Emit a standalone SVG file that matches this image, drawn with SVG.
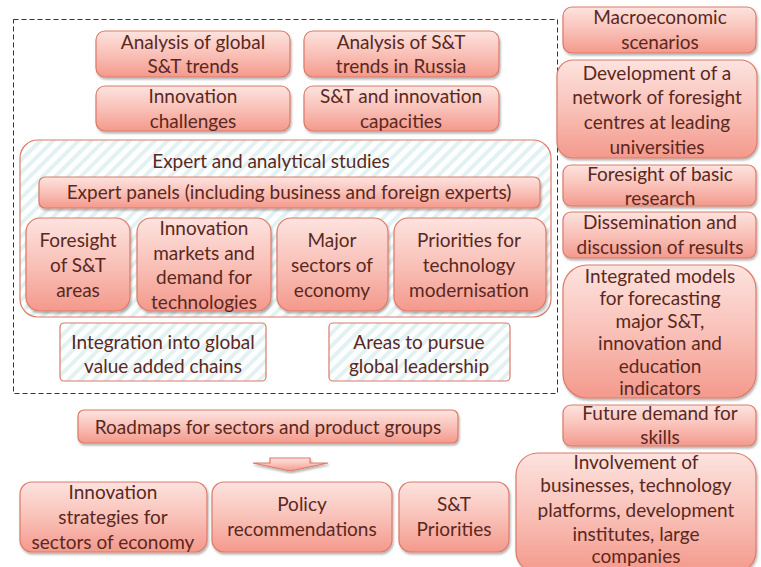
<svg xmlns="http://www.w3.org/2000/svg" width="761" height="567" viewBox="0 0 761 567">
  <defs>
    <linearGradient id="pink" x1="0" y1="0" x2="0" y2="1">
      <stop offset="0" stop-color="#fde3df"/>
      <stop offset="0.5" stop-color="#f9c1b8"/>
      <stop offset="1" stop-color="#f4998c"/>
    </linearGradient>
    <pattern id="hatch" width="9" height="9" patternUnits="userSpaceOnUse" patternTransform="rotate(45)">
      <rect width="9" height="9" fill="#ffffff"/>
      <rect width="4" height="9" fill="#e2f2f2"/>
    </pattern>
    <filter id="shadow" x="-10%" y="-10%" width="120%" height="130%">
      <feDropShadow dx="1" dy="2" stdDeviation="1.2" flood-color="#000" flood-opacity="0.3"/>
    </filter>
  </defs>
  <style>
    .box { fill: url(#pink); stroke: #dc7a68; stroke-width: 1.2; filter: url(#shadow); }
    .hatched { fill: url(#hatch); stroke: #dc7a68; stroke-width: 1.2; }
    .frame { fill: none; stroke: #333; stroke-width: 1; stroke-dasharray: 5 3; }
    text { font-family: Lato, "Open Sans", sans-serif; font-size: 19px; fill: #5a281e; text-anchor: middle; }
  </style>
  <rect width="761" height="567" fill="#ffffff"/>

  <!-- dashed frame around the analytical block -->
  <rect class="frame" x="13.5" y="19.5" width="544" height="374"/>

  <g id="global-trends">
    <rect class="box" x="96" y="31" width="194" height="46" rx="9"/>
    <text x="193" y="49">Analysis of global</text>
    <text x="193" y="73">S&amp;T trends</text>
  </g>
  <g id="russia-trends">
    <rect class="box" x="304" y="31" width="195" height="46" rx="9"/>
    <text x="401" y="49">Analysis of S&amp;T</text>
    <text x="401" y="73">trends in Russia</text>
  </g>
  <g id="innovation-challenges">
    <rect class="box" x="96" y="86" width="194" height="45" rx="9"/>
    <text x="193" y="103">Innovation</text>
    <text x="193" y="128">challenges</text>
  </g>
  <g id="capacities">
    <rect class="box" x="304" y="86" width="195" height="45" rx="9"/>
    <text x="401" y="103">S&amp;T and innovation</text>
    <text x="401" y="128">capacities</text>
  </g>

  <g id="expert-studies">
    <rect class="hatched" x="20" y="140" width="531" height="177" rx="18"/>
    <text x="271" y="168">Expert and analytical studies</text>
  </g>
  <g id="expert-panels">
    <rect class="box" x="39" y="177" width="501" height="31" rx="6"/>
    <text x="289" y="199">Expert panels (including business and foreign experts)</text>
  </g>
  <g id="st-areas">
    <rect class="box" x="26" y="218" width="104" height="93" rx="14"/>
    <text x="78" y="247">Foresight</text>
    <text x="78" y="272">of S&amp;T</text>
    <text x="78" y="297">areas</text>
  </g>
  <g id="innovation-markets">
    <rect class="box" x="137" y="218" width="134" height="93" rx="14"/>
    <text x="204" y="235">Innovation</text>
    <text x="204" y="260">markets and</text>
    <text x="204" y="284">demand for</text>
    <text x="204" y="309">technologies</text>
  </g>
  <g id="major-sectors">
    <rect class="box" x="277" y="218" width="111" height="93" rx="14"/>
    <text x="332" y="247">Major</text>
    <text x="332" y="272">sectors of</text>
    <text x="332" y="297">economy</text>
  </g>
  <g id="tech-priorities">
    <rect class="box" x="394" y="218" width="152" height="93" rx="14"/>
    <text x="469" y="247">Priorities for</text>
    <text x="469" y="272">technology</text>
    <text x="469" y="297">modernisation</text>
  </g>
  <g id="value-chains">
    <rect class="hatched" x="60" y="323" width="206" height="58" rx="4"/>
    <text x="163" y="349">Integration into global</text>
    <text x="163" y="373">value added chains</text>
  </g>
  <g id="global-leadership">
    <rect class="hatched" x="329" y="323" width="181" height="58" rx="4"/>
    <text x="419" y="349">Areas to pursue</text>
    <text x="419" y="373">global leadership</text>
  </g>

  <g id="roadmaps">
    <rect class="box" x="78" y="410" width="380" height="33" rx="6"/>
    <text x="268" y="434">Roadmaps for sectors and product groups</text>
  </g>

  <g id="connectors">
    <path class="box" d="M270 458 H310 V463 H328 L290 471 L253 463 H270 Z"/>
  </g>

  <g id="innovation-strategies">
    <rect class="box" x="20" y="482" width="187" height="70" rx="12"/>
    <text x="113" y="499">Innovation</text>
    <text x="113" y="524">strategies for</text>
    <text x="113" y="549">sectors of economy</text>
  </g>
  <g id="policy">
    <rect class="box" x="212" y="482" width="180" height="70" rx="12"/>
    <text x="302" y="511">Policy</text>
    <text x="302" y="536">recommendations</text>
  </g>
  <g id="st-priorities">
    <rect class="box" x="399" y="482" width="110" height="70" rx="12"/>
    <text x="454" y="511">S&amp;T</text>
    <text x="454" y="536">Priorities</text>
  </g>

  <g id="macro">
    <rect class="box" x="563" y="7" width="193" height="46" rx="9"/>
    <text x="660" y="24">Macroeconomic</text>
    <text x="660" y="49">scenarios</text>
  </g>
  <g id="foresight-centres">
    <rect class="box" x="557" y="60" width="200" height="98" rx="16"/>
    <text x="657" y="80">Development of a</text>
    <text x="657" y="104">network of foresight</text>
    <text x="657" y="129">centres at leading</text>
    <text x="657" y="154">universities</text>
  </g>
  <g id="basic-research">
    <rect class="box" x="563" y="165" width="193" height="41" rx="8"/>
    <text x="660" y="181">Foresight of basic</text>
    <text x="660" y="205">research</text>
  </g>
  <g id="dissemination">
    <rect class="box" x="563" y="212" width="193" height="46" rx="8"/>
    <text x="660" y="229">Dissemination and</text>
    <text x="660" y="254">discussion of results</text>
  </g>
  <g id="integrated-models">
    <rect class="box" x="563" y="265" width="193" height="133" rx="24"/>
    <text x="660" y="283">Integrated models</text>
    <text x="660" y="305">for forecasting</text>
    <text x="660" y="328">major S&amp;T,</text>
    <text x="660" y="350">innovation and</text>
    <text x="660" y="373">education</text>
    <text x="660" y="395">indicators</text>
  </g>
  <g id="skills">
    <rect class="box" x="563" y="405" width="193" height="41" rx="8"/>
    <text x="660" y="420">Future demand for</text>
    <text x="660" y="444">skills</text>
  </g>
  <g id="involvement">
    <rect class="box" x="516" y="453" width="240" height="120" rx="22"/>
    <text x="636" y="469">Involvement of</text>
    <text x="636" y="492">businesses, technology</text>
    <text x="636" y="517">platforms, development</text>
    <text x="636" y="541">institutes, large</text>
    <text x="636" y="563">companies</text>
  </g>
</svg>
